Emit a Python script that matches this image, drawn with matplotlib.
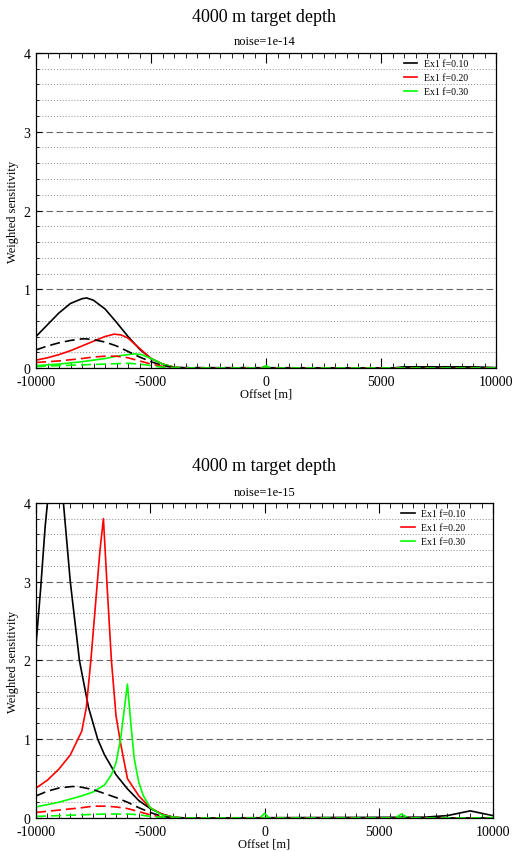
import numpy as np
import matplotlib
matplotlib.use('Agg')
from matplotlib import pyplot as plt

plt.rcParams['font.family'] = ['Liberation Serif', 'DejaVu Serif']

# top panel, noise=1e-14
top_x_f10 = [-10000, -9500, -9000, -8500, -8000, -7800, -7500, -7000, -6500, -6000, -5500, -5000, -4500, -4000, -3500, 0, 5500, 6000, 9000, 10000]
top_solid_f10 = [0.40, 0.55, 0.70, 0.82, 0.88, 0.89, 0.86, 0.75, 0.58, 0.40, 0.24, 0.12, 0.05, 0.01, 0.0, 0.0, 0.0, 0.015, 0.015, 0.005]
top_x_d10 = [-10000, -9500, -9000, -8500, -8000, -7800, -7500, -7000, -6500, -6000, -5500, -5000, -4500, -4000, 10000]
top_dash_f10 = [0.23, 0.28, 0.32, 0.35, 0.37, 0.37, 0.36, 0.33, 0.28, 0.21, 0.14, 0.08, 0.03, 0.005, 0.0]

top_x_f20 = [-10000, -9500, -9000, -8500, -8000, -7500, -7000, -6600, -6300, -6000, -5500, -5000, -4500, -4000, -3500, -200, 0, 200, 10000]
top_solid_f20 = [0.10, 0.13, 0.17, 0.22, 0.28, 0.34, 0.40, 0.43, 0.42, 0.38, 0.25, 0.12, 0.05, 0.01, 0.0, 0.0, 0.02, 0.0, 0.0]
top_x_d20 = [-10000, -9000, -8000, -7500, -7000, -6500, -6000, -5500, -5000, -4500, -4000, 10000]
top_dash_f20 = [0.07, 0.09, 0.12, 0.14, 0.15, 0.15, 0.13, 0.09, 0.05, 0.02, 0.0, 0.0]

top_x_f30 = [-10000, -9000, -8000, -7000, -6500, -6000, -5700, -5400, -5000, -4500, -4000, -3500, -200, 0, 200, 10000]
top_solid_f30 = [0.03, 0.05, 0.08, 0.12, 0.15, 0.17, 0.18, 0.17, 0.12, 0.05, 0.01, 0.0, 0.0, 0.03, 0.0, 0.0]
top_x_d30 = [-10000, -9000, -8000, -7000, -6000, -5500, -5000, -4500, -4000, 10000]
top_dash_f30 = [0.02, 0.03, 0.04, 0.05, 0.06, 0.05, 0.03, 0.01, 0.0, 0.0]

# bottom panel, noise=1e-15
bot_x_f10 = [-10000, -9800, -9600, -9500, -9300, -9100, -8900, -8800, -8500, -8100, -7700, -7300, -7000, -6500, -6000, -5500, -5000, -4500, -4000, -3500, 7000, 8000, 8500, 9000, 9500, 10000]
bot_solid_f10 = [2.2, 2.9, 3.7, 4.0, 4.6, 4.8, 4.4, 4.0, 3.0, 2.0, 1.4, 1.0, 0.80, 0.55, 0.37, 0.22, 0.12, 0.05, 0.01, 0.0, 0.01, 0.03, 0.06, 0.09, 0.06, 0.03]
bot_x_d10 = [-10000, -9500, -9000, -8400, -8000, -7500, -7000, -6500, -6000, -5500, -5000, -4500, -4000, 10000]
bot_dash_f10 = [0.28, 0.34, 0.38, 0.40, 0.39, 0.36, 0.31, 0.26, 0.20, 0.13, 0.07, 0.02, 0.0, 0.0]

bot_x_f20 = [-10000, -9500, -9000, -8500, -8000, -7800, -7600, -7400, -7200, -7050, -6900, -6700, -6500, -6300, -6000, -5500, -5000, -4500, -4000, -3500, 10000]
bot_solid_f20 = [0.38, 0.48, 0.62, 0.80, 1.10, 1.40, 2.00, 2.70, 3.40, 3.80, 3.00, 2.00, 1.30, 0.95, 0.50, 0.28, 0.13, 0.05, 0.01, 0.0, 0.0]
bot_x_d20 = [-10000, -9000, -8000, -7500, -7000, -6500, -6000, -5500, -5000, -4500, -4000, 10000]
bot_dash_f20 = [0.07, 0.10, 0.13, 0.15, 0.15, 0.14, 0.12, 0.08, 0.04, 0.01, 0.0, 0.0]

bot_x_f30 = [-10000, -9000, -8000, -7500, -7000, -6700, -6500, -6300, -6150, -6000, -5850, -5700, -5500, -5300, -5000, -4500, -4000, -3500, -200, 0, 200, 5700, 6000, 6300, 10000]
bot_solid_f30 = [0.14, 0.20, 0.28, 0.33, 0.42, 0.55, 0.70, 1.00, 1.35, 1.70, 1.20, 0.75, 0.45, 0.28, 0.13, 0.04, 0.01, 0.0, 0.0, 0.06, 0.0, 0.0, 0.05, 0.0, 0.0]
bot_x_d30 = [-10000, -9000, -8000, -7000, -6000, -5500, -5000, -4500, -4000, 10000]
bot_dash_f30 = [0.02, 0.03, 0.04, 0.05, 0.05, 0.04, 0.02, 0.01, 0.0, 0.0]

labels = ['Ex1 f=0.10', 'Ex1 f=0.20', 'Ex1 f=0.30']
colors = ['black', '#ff0000', '#00ff00']

fig = plt.figure(figsize=(5.13, 8.53), dpi=100)
ax1 = fig.add_axes([0.0702, 0.5674, 0.8967, 0.3693])
ax2 = fig.add_axes([0.0702, 0.0399, 0.8909, 0.3693])


def style(ax):
    ax.set_xlim(-10000, 10000)
    ax.set_ylim(0, 4)
    ax.set_xticks([-10000, -5000, 0, 5000, 10000])
    ax.set_xticklabels(['-10000', '-5000', '0', '5000', '10000'])
    ax.set_xticks(np.arange(-10000, 10001, 500), minor=True)
    ax.set_yticks([0, 1, 2, 3, 4])
    ax.set_yticks(np.arange(0, 4.01, 0.2), minor=True)
    ax.yaxis.grid(True, which='major', linestyle=(0, (6, 3)), color='#666666', linewidth=0.8)
    ax.yaxis.grid(True, which='minor', linestyle=(0, (1, 2)), color='#888888', linewidth=0.7)
    ax.tick_params(axis='x', which='both', direction='in', top=True, labelsize=10, pad=5)
    ax.tick_params(axis='x', which='major', length=7)
    ax.tick_params(axis='x', which='minor', length=3.5)
    ax.tick_params(axis='y', which='major', direction='in', length=4, labelsize=10, pad=4)
    ax.tick_params(axis='y', which='minor', direction='in', length=2)
    ax.set_xlabel('Offset [m]', fontsize=9, labelpad=0)
    ax.set_ylabel('Weighted sensitivity', fontsize=9, labelpad=3)
    for s in ax.spines.values():
        s.set_linewidth(0.9)
    leg = ax.legend(loc='upper right', bbox_to_anchor=(0.94, 0.98), frameon=False,
                    fontsize=7, handlelength=1.4, handletextpad=0.7,
                    labelspacing=0.5, borderaxespad=0.0, borderpad=0.0)
    return leg


# top
ax1.plot(top_x_f10, top_solid_f10, color=colors[0], lw=1.2, label=labels[0])
ax1.plot(top_x_f20, top_solid_f20, color=colors[1], lw=1.2, label=labels[1])
ax1.plot(top_x_f30, top_solid_f30, color=colors[2], lw=1.2, label=labels[2])
ax1.plot(top_x_d10, top_dash_f10, color=colors[0], lw=1.2, ls=(0, (6, 3)))
ax1.plot(top_x_d20, top_dash_f20, color=colors[1], lw=1.2, ls=(0, (6, 3)))
ax1.plot(top_x_d30, top_dash_f30, color=colors[2], lw=1.2, ls=(0, (6, 3)))
style(ax1)

# bottom
ax2.plot(bot_x_f10, bot_solid_f10, color=colors[0], lw=1.2, label=labels[0])
ax2.plot(bot_x_f20, bot_solid_f20, color=colors[1], lw=1.2, label=labels[1])
ax2.plot(bot_x_f30, bot_solid_f30, color=colors[2], lw=1.2, label=labels[2])
ax2.plot(bot_x_d10, bot_dash_f10, color=colors[0], lw=1.2, ls=(0, (6, 3)))
ax2.plot(bot_x_d20, bot_dash_f20, color=colors[1], lw=1.2, ls=(0, (6, 3)))
ax2.plot(bot_x_d30, bot_dash_f30, color=colors[2], lw=1.2, ls=(0, (6, 3)))
style(ax2)

fig.text(0.515, 1 - 18 / 853, '4000 m target depth', ha='center', va='center', fontsize=13)
fig.text(0.515, 1 - 42 / 853, 'noise=1e-14', ha='center', va='center', fontsize=9)
fig.text(0.515, 1 - 467 / 853, '4000 m target depth', ha='center', va='center', fontsize=13)
fig.text(0.515, 1 - 493 / 853, 'noise=1e-15', ha='center', va='center', fontsize=9)

fig.savefig('out.png', dpi=100)
